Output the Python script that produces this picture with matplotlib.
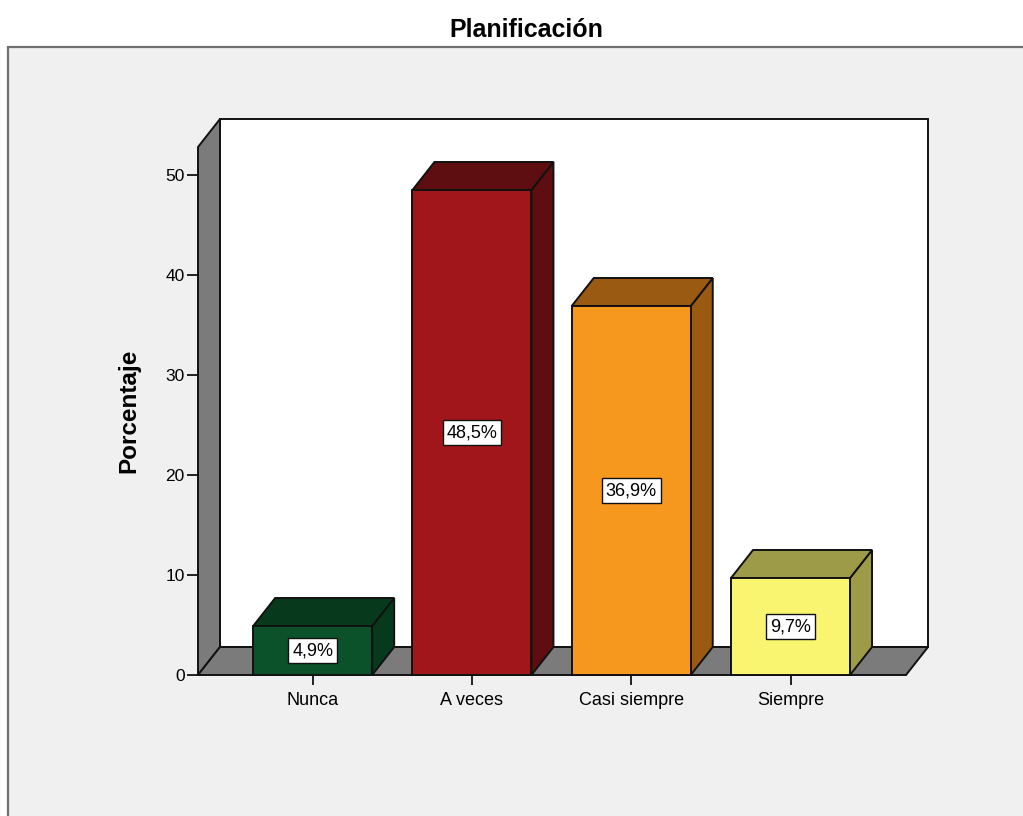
import matplotlib
matplotlib.use("Agg")
import matplotlib.pyplot as plt
from matplotlib.patches import Polygon, Rectangle

# Data
categories = ["Nunca", "A veces", "Casi siempre", "Siempre"]
percentages = [4.9, 48.5, 36.9, 9.7]
value_labels = ["4,9%", "48,5%", "36,9%", "9,7%"]
yticks = [0, 10, 20, 30, 40, 50]

# Styling
front_colors = ["#0b522a", "#a0161a", "#f7981e", "#f9f571"]
shade_colors = ["#073a1d", "#5e0e10", "#9b5a12", "#9d9a48"]
wall_gray = "#7b7b7b"
panel_bg = "#f0f0f0"
FONT = "Liberation Sans"

W, H = 1023, 816
fig = plt.figure(figsize=(W / 100, H / 100), dpi=100)
fig.patch.set_facecolor("white")

# Grey chart panel
fig.add_artist(Rectangle((8 / W, -0.05), 1.1, (H - 47 + 0.05 * H) / H,
                         transform=fig.transFigure, facecolor=panel_bg,
                         edgecolor="#707070", linewidth=1.6, zorder=0))

fig.text(526 / W, 1 - 37 / H, "Planificación", ha="center", va="baseline",
         fontsize=18, fontweight="bold", family=FONT)

# Front plane of the 3D box
x_left, x_right = 198, 906
y_zero, y_top = 675, 147
ax = fig.add_axes([x_left / W, (H - y_zero) / H, (x_right - x_left) / W,
                   (y_zero - y_top) / H])
ax.set_facecolor("none")

xmin, xmax = -0.72, 3.725
ymin, ymax = 0, 52.8
ax.set_xlim(xmin, xmax)
ax.set_ylim(ymin, ymax)

# Depth offset of the box (data units)
px_per_x = (x_right - x_left) / (xmax - xmin)
px_per_y = (y_zero - y_top) / (ymax - ymin)
DX = 22 / px_per_x
DY = 28 / px_per_y

ec = "#111111"
lw = 1.4

def poly(pts, fc, z):
    ax.add_patch(Polygon(pts, closed=True, facecolor=fc, edgecolor=ec,
                         linewidth=lw, joinstyle="miter", clip_on=False, zorder=z))

# Back wall, left wall, floor
poly([(xmin + DX, DY), (xmax + DX, DY), (xmax + DX, ymax + DY), (xmin + DX, ymax + DY)], "white", 1)
poly([(xmin, 0), (xmin + DX, DY), (xmin + DX, ymax + DY), (xmin, ymax)], wall_gray, 2)
poly([(xmin, 0), (xmax, 0), (xmax + DX, DY), (xmin + DX, DY)], wall_gray, 2)

# 3D bars
bar_w = 119 / px_per_x
for i, (v, fcol, scol, lab) in enumerate(zip(percentages, front_colors, shade_colors, value_labels)):
    x0, x1 = i - bar_w / 2, i + bar_w / 2
    poly([(x1, 0), (x1 + DX, DY), (x1 + DX, v + DY), (x1, v)], scol, 3)
    poly([(x0, v), (x1, v), (x1 + DX, v + DY), (x0 + DX, v + DY)], scol, 3)
    poly([(x0, 0), (x1, 0), (x1, v), (x0, v)], fcol, 4)
    ax.text(i, v / 2, lab, ha="center", va="center", fontsize=13, family=FONT,
            zorder=6, bbox=dict(boxstyle="square,pad=0.22", facecolor="white",
                                edgecolor=ec, linewidth=1.0))

# Axes decoration
for s in ["top", "right", "left", "bottom"]:
    ax.spines[s].set_visible(False)

ax.set_yticks(yticks)
ax.set_yticklabels([str(t) for t in yticks], family=FONT, fontsize=12.5)
ax.set_xticks(range(len(categories)))
ax.set_xticklabels(categories, family=FONT, fontsize=13)
ax.tick_params(axis="y", length=8, width=1.3, color=ec, pad=1.5)
ax.tick_params(axis="x", length=7, width=1.3, color=ec, pad=5)

ax.set_ylabel("Porcentaje", family=FONT, fontsize=17.5, fontweight="bold")
ax.yaxis.set_label_coords((140 - x_left) / (x_right - x_left), 0.5)

fig.savefig("out.png", dpi=100, facecolor=fig.get_facecolor())
